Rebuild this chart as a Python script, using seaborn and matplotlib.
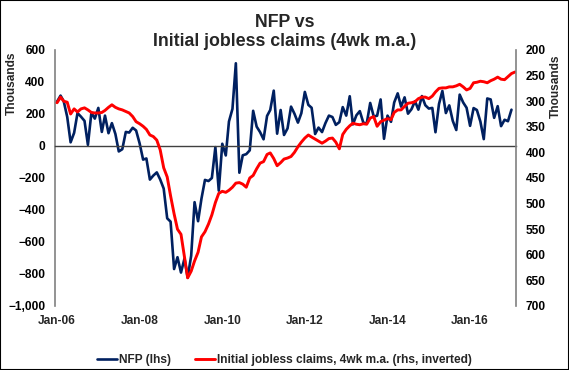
import pandas as pd
import matplotlib.pyplot as plt
import matplotlib.dates as mdates
import matplotlib.ticker as mticker
import seaborn as sns

# Monthly non-farm payrolls change (thousands), Jan-06 .. Jan-17
nfp = [277, 315, 280, 182, 23, 82, 206, 183, 157, 7, 209, 171,
       238, 88, 190, 80, 143, 75, -34, -20, 88, 84, 114, 97,
       17, -85, -78, -210, -185, -165, -209, -266, -452, -473, -769, -695,
       -791, -703, -823, -686, -351, -470, -329, -212, -219, -200, -7, -279,
       14, -59, 153, 232, 517, -167, -58, -51, -27, 220, 121, 87,
       42, 188, 225, 346, 77, 225, 69, 110, 246, 202, 146, 205,
       338, 257, 239, 75, 115, 87, 143, 190, 181, 132, 149, 243,
       190, 311, 135, 192, 218, 146, 140, 269, 185, 189, 291, 45,
       190, 151, 272, 329, 246, 304, 202, 230, 280, 227, 312, 255,
       234, 238, 86, 262, 344, 206, 254, 157, 100, 321, 272, 239,
       126, 237, 225, 153, 43, 297, 291, 176, 249, 124, 164, 155,
       227]

# Initial jobless claims, 4wk moving average (thousands), Jan-06 .. Feb-17
claims = [303, 292, 300, 302, 325, 315, 321, 315, 313, 317, 322, 323,
          323, 322, 318, 312, 307, 312, 315, 317, 320, 323, 330, 340,
          344, 349, 355, 366, 369, 376, 395, 430, 448, 485, 520, 550,
          560, 605, 645, 632, 612, 595, 565, 555, 540, 522, 498, 480,
          476, 478, 474, 468, 460, 459, 462, 468, 450, 445, 432, 421,
          418, 404, 401, 412, 426, 420, 413, 411, 408, 400, 389, 380,
          372, 366, 370, 374, 378, 382, 378, 373, 372, 380, 393, 365,
          355, 348, 343, 345, 346, 344, 345, 333, 330, 349, 340, 337,
          334, 336, 322, 317, 317, 310, 304, 303, 301, 295, 292, 292,
          295, 290, 282, 275, 274, 274, 272, 272, 270, 267, 272, 278,
          275, 264, 263, 261, 262, 264, 260, 257, 253, 257, 258, 252,
          246, 243]

nfp_dates = pd.date_range('2006-01-01', periods=len(nfp), freq='MS')
claims_dates = pd.date_range('2006-01-01', periods=len(claims), freq='MS')

df_nfp = pd.DataFrame({'date': nfp_dates, 'value': nfp})
df_claims = pd.DataFrame({'date': claims_dates, 'value': claims})

sns.set_style('white')
plt.rcParams['font.family'] = ['Liberation Sans', 'DejaVu Sans']
plt.rcParams['font.weight'] = 'bold'

blue = '#002060'
red = '#FF0000'
grey = '#808080'

fig = plt.figure(figsize=(5.69, 3.70), dpi=100)
ax = fig.add_axes([55 / 569, 1 - 306 / 370, (516 - 55) / 569, (306 - 50) / 370])
ax2 = ax.twinx()

sns.lineplot(data=df_nfp, x='date', y='value', ax=ax, color=blue, linewidth=1.9,
             label='NFP (lhs)', legend=False)
sns.lineplot(data=df_claims, x='date', y='value', ax=ax2, color=red, linewidth=2.1,
             label='Initial jobless claims, 4wk m.a. (rhs, inverted)', legend=False)

# Left axis
ax.set_ylim(-1000, 600)
ax.set_yticks(range(-1000, 601, 200))
ax.yaxis.set_major_formatter(mticker.StrMethodFormatter('{x:,.0f}'))
ax.set_xlim(pd.Timestamp('2005-12-14'), pd.Timestamp('2017-02-10'))
ax.xaxis.set_major_locator(mdates.YearLocator(2))
ax.xaxis.set_major_formatter(mdates.DateFormatter('%b-%y'))
ax.set_xlabel('')
ax.set_ylabel('')
ax.spines['top'].set_visible(False)
ax.spines['right'].set_visible(False)
ax.spines['left'].set_color(grey)
ax.spines['left'].set_linewidth(1.2)
ax.spines['bottom'].set_position(('data', 0))
ax.spines['bottom'].set_color('#404040')
ax.spines['bottom'].set_linewidth(1.0)
ax.tick_params(axis='y', length=0, pad=7, labelsize=8.6, colors='black')
ax.tick_params(axis='x', direction='out', length=3, width=1, color='#404040',
               pad=119, labelsize=8.6)

# Right axis (inverted)
ax2.set_ylim(700, 200)
ax2.set_yticks(range(200, 701, 50))
ax2.set_ylabel('')
for s in ['top', 'left', 'bottom']:
    ax2.spines[s].set_visible(False)
ax2.spines['right'].set_color(grey)
ax2.spines['right'].set_linewidth(1.2)
ax2.tick_params(axis='y', length=0, pad=7, labelsize=8.6, colors='black')

for lab in ax.get_xticklabels() + ax.get_yticklabels() + ax2.get_yticklabels():
    lab.set_fontweight('bold')

fig.text(0.5, 1 - 32 / 370, 'NFP vs\nInitial jobless claims (4wk m.a.)', ha='center', va='center',
         fontsize=12.8, fontweight='bold', linespacing=1.2)
fig.text(12 / 569, 1 - 83 / 370, 'Thousands', rotation=90, ha='center', va='center',
         fontsize=8.6, fontweight='bold')
fig.text(556 / 569, 1 - 86 / 370, 'Thousands', rotation=90, ha='center', va='center',
         fontsize=8.6, fontweight='bold')

h1, l1 = ax.get_legend_handles_labels()
h2, l2 = ax2.get_legend_handles_labels()
fig.legend(h1 + h2, l1 + l2, loc='center', bbox_to_anchor=(0.5, 1 - 360 / 370), ncol=2,
           frameon=False, fontsize=8.6, handlelength=1.7, handletextpad=0.15,
           columnspacing=2.0, prop={'weight': 'bold', 'size': 8.6})

fig.patches.append(plt.Rectangle((0, 0), 1, 1, transform=fig.transFigure, fill=False,
                                 edgecolor='black', linewidth=1.5))

fig.savefig('out.png', dpi=100)
